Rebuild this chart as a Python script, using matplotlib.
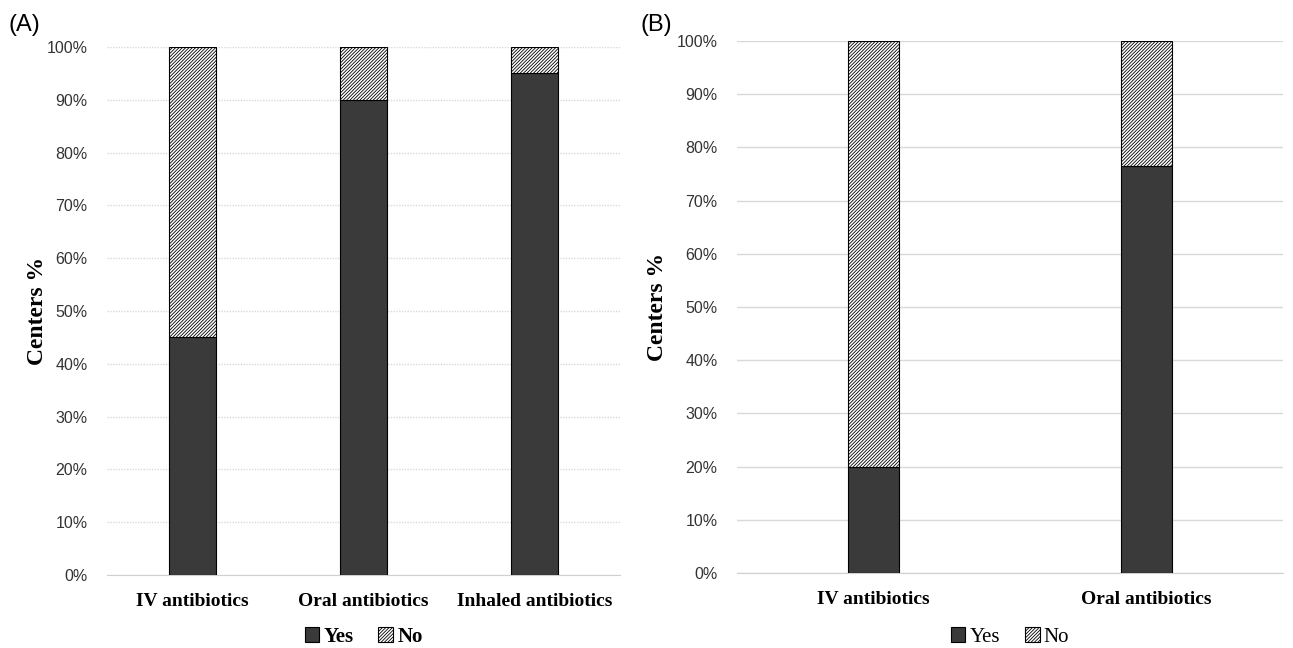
import matplotlib.pyplot as plt
from matplotlib.patches import Patch
from matplotlib.ticker import PercentFormatter

plt.rcParams['hatch.linewidth'] = 0.6

# Panel A
cats_a = ["IV antibiotics", "Oral antibiotics", "Inhaled antibiotics"]
yes_a = [45, 90, 95]
no_a = [55, 10, 5]

# Panel B
cats_b = ["IV antibiotics", "Oral antibiotics"]
yes_b = [20, 76.5]
no_b = [80, 23.5]

YES_COLOR = "#3a3a3a"
SERIF = "Liberation Serif"
SANS = "Liberation Sans"
HATCH = "//////////"

fig = plt.figure(figsize=(12.93, 6.48), dpi=100)
ax_a = fig.add_axes([107 / 1293, 1 - 575 / 648, 513 / 1293, 528 / 648])
ax_b = fig.add_axes([737 / 1293, 1 - 573 / 648, 546 / 1293, 532 / 648])


def draw_panel(ax, cats, yes, no, width, grid_ls, legend_weight, leg_y, lab_x):
    x = list(range(len(cats)))
    ax.bar(x, yes, width=width, color=YES_COLOR, edgecolor="black", linewidth=0.8,
           label="Yes", zorder=3)
    ax.bar(x, no, bottom=yes, width=width, color="white", edgecolor="black",
           hatch=HATCH, linewidth=0.8, label="No", zorder=3)
    ax.set_xlim(-0.5, len(cats) - 0.5)
    ax.set_ylim(0, 100)
    ax.set_yticks(range(0, 101, 10))
    ax.yaxis.set_major_formatter(PercentFormatter(decimals=0))
    ax.set_xticks(x)
    ax.set_xticklabels(cats, fontfamily=SERIF, fontweight="bold", fontsize=14)
    for lab in ax.get_yticklabels():
        lab.set_fontfamily(SANS)
        lab.set_fontsize(11.5)
        lab.set_color("#333333")
    ax.tick_params(axis="both", length=0)
    ax.tick_params(axis="x", pad=13)
    ax.tick_params(axis="y", pad=14)
    ax.grid(axis="y", color="#d9d9d9", linestyle=grid_ls, linewidth=1, zorder=0)
    for side in ["top", "right", "left"]:
        ax.spines[side].set_visible(False)
    ax.spines["bottom"].set_color("#d0d0d0")
    ax.set_ylabel("Centers %", fontfamily=SERIF, fontweight="bold", fontsize=17)
    ax.yaxis.set_label_coords(lab_x, 0.5)
    handles = [Patch(facecolor=YES_COLOR, edgecolor="black", linewidth=0.8, label="Yes"),
               Patch(facecolor="white", edgecolor="black", hatch=HATCH,
                     linewidth=0.8, label="No")]
    ax.legend(handles=handles, loc="center", bbox_to_anchor=(0.5, leg_y),
              ncol=2, frameon=False, handlelength=0.7, handleheight=0.7,
              handletextpad=0.2, columnspacing=1.2,
              prop={"family": SERIF, "weight": legend_weight, "size": 15})


draw_panel(ax_a, cats_a, yes_a, no_a, 0.27, (0, (1, 1)), "bold", -0.117, -0.115)
draw_panel(ax_b, cats_b, yes_b, no_b, 0.19, "-", "normal", -0.12, -0.127)

fig.text(8 / 1293, 1 - 25 / 648, "(A)", fontsize=17, fontfamily=SANS, va="center")
fig.text(640 / 1293, 1 - 25 / 648, "(B)", fontsize=17, fontfamily=SANS, va="center")

fig.savefig("out.png", dpi=100)
